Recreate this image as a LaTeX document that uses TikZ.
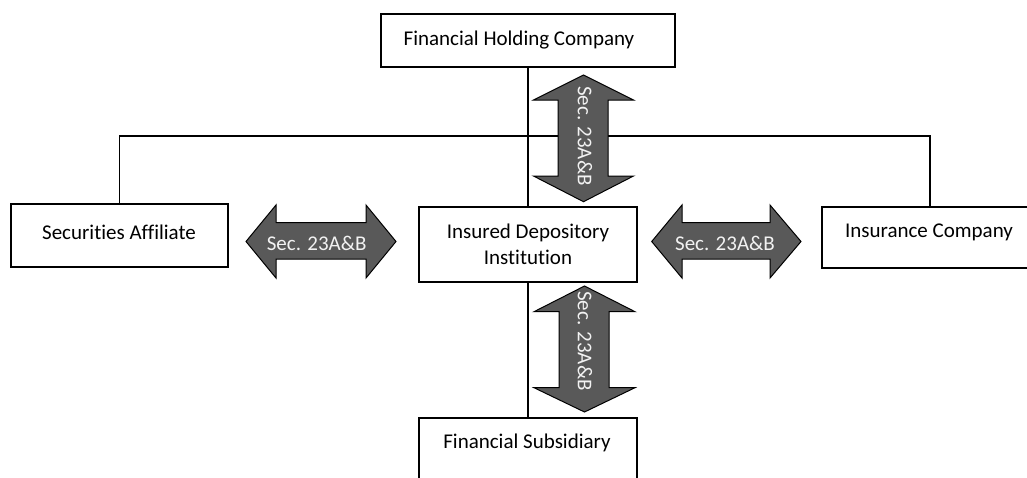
\documentclass[tikz,border=0pt]{standalone}
\usepackage{fontspec}
\setmainfont{Carlito}[Ligatures=NoCommon]
\definecolor{arrowgray}{HTML}{595959}
\definecolor{arrowtext}{HTML}{F2F2F2}
\begin{document}
\begin{tikzpicture}[x=1pt,y=-1pt,
  box/.style={draw=black, line width=1.4pt, fill=white, inner sep=0, outer sep=0},
  lbl/.style={font=\fontsize{21}{25.4}\selectfont, align=center, inner sep=0},
  conn/.style={draw=black, line width=1.2pt},
  arr/.style={draw=black, line width=1pt, fill=arrowgray},
  arrlbl/.style={font=\fontsize{21}{25}\selectfont, text=arrowtext, inner sep=0}]
\useasboundingbox (0,0) rectangle (1027,477);

% boxes
\node[box, minimum width=294pt, minimum height=53pt] (fhc) at (528,40.5) {};
\node[box, minimum width=217pt, minimum height=63pt] (sa) at (119.5,235.5) {};
\node[box, minimum width=218pt, minimum height=75pt] (idi) at (528,244.5) {};
\node[box, minimum width=216pt, minimum height=61pt] (ic) at (930,237.5) {};
\node[box, minimum width=218pt, minimum height=72pt] (fs) at (528,454) {};

% connectors
\coordinate (bus) at (528,136);
\draw[conn] (fhc.south) -- (idi.north);
\draw[conn] (sa.north) |- (bus) -| (ic.north);
\draw[conn] (idi.south) -- (fs.north);

% redraw box outlines over connector ends
\node[box, minimum width=294pt, minimum height=53pt] at (528,40.5) {};
\node[box, minimum width=217pt, minimum height=63pt] at (119.5,235.5) {};
\node[box, minimum width=218pt, minimum height=75pt] at (528,244.5) {};
\node[box, minimum width=216pt, minimum height=61pt] at (930,237.5) {};
\node[box, minimum width=218pt, minimum height=72pt] at (528,454) {};

% labels
\node[lbl] (tfhc) at (519,40) {Financial Holding Company};
\node[lbl] (tsa) at (119,232) {Securities Affiliate};
\node[lbl] (tidi) at (528,244.4) {Insured Depository\\Institution};
\node[lbl] (tic) at (929,232) {Insurance Company};
\node[lbl] (tfs) at (527,443) {Financial Subsidiary};

% double arrows
\draw[arr] (583.5,75) -- (633.5,100) -- (608,100) -- (608,176) -- (633.5,176) -- (583.5,201.7)
  -- (533.5,176) -- (558,176) -- (558,100) -- (533.5,100) -- cycle;
\node[arrlbl, rotate=-90] (a1) at (585,136) {Sec. 23A\&B};

\draw[arr] (584.5,286) -- (635,311.7) -- (609,311.7) -- (609,387.7) -- (635,387.7) -- (584.5,412)
  -- (534,387.7) -- (559,387.7) -- (559,311.7) -- (534,311.7) -- cycle;
\node[arrlbl, rotate=-90] (a2) at (585,341) {Sec. 23A\&B};

\draw[arr] (246,241.5) -- (276,205) -- (276,222.7) -- (366,222.7) -- (366,205) -- (396,241.5)
  -- (366,278) -- (366,259) -- (276,259) -- (276,278) -- cycle;
\node[arrlbl] (a3) at (316.7,243) {Sec. 23A\&B};

\draw[arr] (651.7,241.5) -- (682,205) -- (682,222.7) -- (770,222.7) -- (770,205) -- (801,241.5)
  -- (770,278) -- (770,259) -- (682,259) -- (682,278) -- cycle;
\node[arrlbl] (a4) at (725,243) {Sec. 23A\&B};
\end{tikzpicture}
\end{document}
